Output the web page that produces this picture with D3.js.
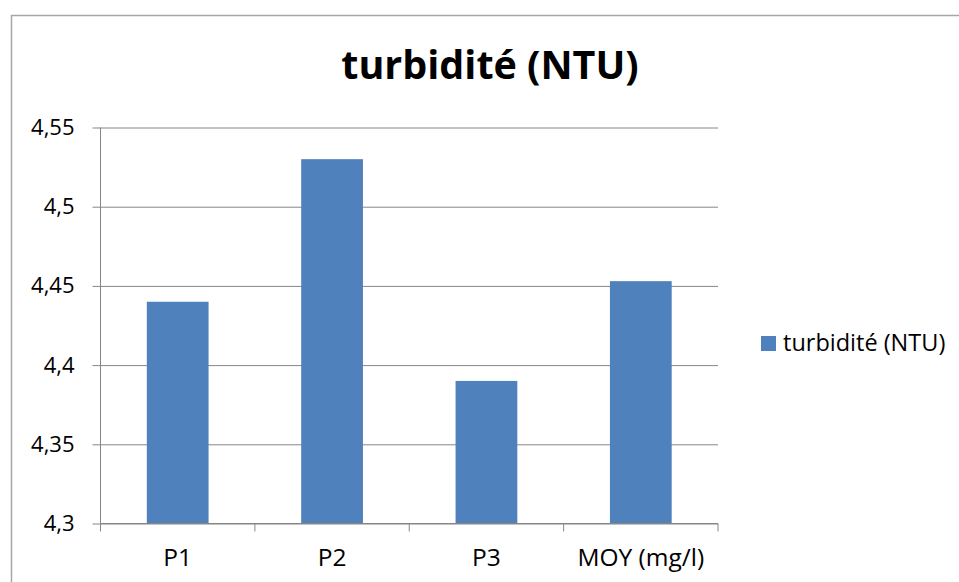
<!DOCTYPE html>
<html>
<head>
<meta charset="utf-8">
<script src="https://d3js.org/d3.v7.min.js"></script>
<style>
  body { margin: 0; background: #fff; }
  text { font-family: "Open Sans", "Liberation Sans", sans-serif; fill: #000; }
</style>
</head>
<body>
<svg id="main_canvas" width="959" height="582"></svg>
<script>
    const categories = ["P1", "P2", "P3", "MOY (mg/l)"];
    const values = [4.44, 4.53, 4.39, 4.453];
    const yTicks = [4.3, 4.35, 4.4, 4.45, 4.5, 4.55];
    const seriesName = "turbidité (NTU)";

    const margins = { left: 100.5, right: 241, top: 127, bottom: 58 };
    const W = 959, H = 582;

    const svg = d3.select("#main_canvas");

    // outer chart frame (only top and left visible)
    svg.append("path")
        .attr("d", `M11.5,${H} V15.5 H${W}`)
        .attr("fill", "none")
        .attr("stroke", "#a6a6a6")
        .attr("stroke-width", 1.5);

    const x = d3.scaleBand()
        .domain(categories)
        .range([margins.left, W - margins.right])
        .paddingInner(0.6)
        .paddingOuter(0.3);

    const y = d3.scaleLinear()
        .domain([4.3, 4.55])
        .range([H - margins.bottom - 0.5, margins.top + 0.5]);

    const fmt = d => d3.format(".2~f")(d).replace(".", ",");

    // grid + y axis
    const yAxis = svg.append("g")
        .attr("transform", `translate(${margins.left},0)`)
        .call(d3.axisLeft(y).tickValues(yTicks).tickFormat(fmt)
            .tickSize(-(W - margins.right - margins.left)).tickPadding(26))
        .call(g => g.select(".domain").remove());
    yAxis.selectAll(".tick line")
        .attr("stroke", "#868686")
        .attr("x1", -8);
    yAxis.selectAll(".tick text")
        .style("font-size", "22px");
    svg.append("line")
        .attr("x1", margins.left).attr("x2", margins.left)
        .attr("y1", y(4.55)).attr("y2", y(4.3))
        .attr("stroke", "#868686");

    // bars
    svg.selectAll("rect.bar")
        .data(values)
        .join("rect")
        .attr("class", "bar")
        .attr("x", (d, i) => x(categories[i]))
        .attr("width", x.bandwidth())
        .attr("y", d => y(d))
        .attr("height", d => y(4.3) - y(d))
        .attr("fill", "#4f81bd");

    // x axis
    const bounds = d3.range(categories.length + 1).map(i => margins.left + i * (W - margins.right - margins.left) / categories.length);
    const xg = svg.append("g");
    xg.append("line")
        .attr("x1", margins.left).attr("x2", W - margins.right)
        .attr("y1", y(4.3)).attr("y2", y(4.3))
        .attr("stroke", "#868686");
    xg.selectAll("line.tk")
        .data(bounds)
        .join("line")
        .attr("class", "tk")
        .attr("x1", d => d).attr("x2", d => d)
        .attr("y1", y(4.3)).attr("y2", y(4.3) + 8)
        .attr("stroke", "#868686");
    xg.selectAll("text")
        .data(categories)
        .join("text")
        .attr("x", d => x(d) + x.bandwidth() / 2)
        .attr("y", 566)
        .attr("text-anchor", "middle")
        .style("font-size", "24.5px")
        .text(d => d);

    // title
    svg.append("text")
        .attr("x", 490)
        .attr("y", 79)
        .attr("text-anchor", "middle")
        .style("font-size", "39.5px")
        .style("font-weight", "bold")
        .text(seriesName);

    // legend
    const legend = svg.append("g").attr("transform", "translate(761,336)");
    legend.append("rect")
        .attr("width", 15).attr("height", 15)
        .attr("fill", "#4f81bd");
    legend.append("text")
        .attr("x", 22)
        .attr("y", 15)
        .style("font-size", "23.5px")
        .text(seriesName);
</script>
</body>
</html>
